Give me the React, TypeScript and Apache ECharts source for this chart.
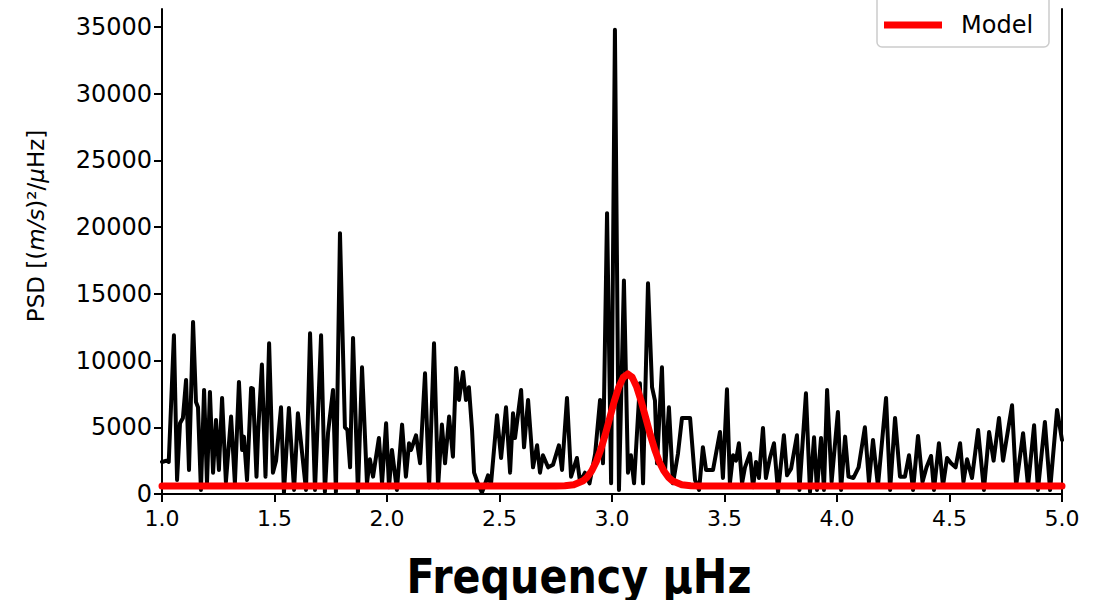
import React, { useEffect, useRef } from "react";
import * as echarts from "echarts";

const xTicks = [1.0, 1.5, 2.0, 2.5, 3.0, 3.5, 4.0, 4.5, 5.0];
const yTicks = [0, 5000, 10000, 15000, 20000, 25000, 30000, 35000];

const psdFreq = [
  1.0, 1.02, 1.03, 1.053, 1.067, 1.08, 1.093, 1.107, 1.12, 1.138, 1.151, 1.16, 1.173, 1.187, 1.2, 1.213, 1.227, 1.24,
  1.253, 1.267, 1.284, 1.307, 1.324, 1.342, 1.356, 1.364, 1.378, 1.396, 1.404, 1.42, 1.427, 1.444, 1.46, 1.476, 1.493,
  1.507, 1.529, 1.542, 1.564, 1.587, 1.604, 1.64, 1.658, 1.68, 1.707, 1.724, 1.738, 1.76, 1.773, 1.791, 1.813, 1.824,
  1.836, 1.849, 1.871, 1.889, 1.911, 1.924, 1.938, 1.964, 1.978, 1.996,
  2.009, 2.022, 2.044, 2.067, 2.084, 2.098, 2.107, 2.129, 2.147, 2.169, 2.187, 2.209, 2.227, 2.244, 2.258, 2.276, 2.293,
  2.307, 2.32, 2.338, 2.351, 2.364, 2.378, 2.387, 2.404, 2.422, 2.436, 2.449, 2.462, 2.489, 2.507, 2.529, 2.547, 2.56,
  2.569, 2.596, 2.609, 2.627, 2.649, 2.667, 2.68, 2.693, 2.716, 2.738, 2.764, 2.778, 2.8, 2.818, 2.844, 2.858, 2.88,
  2.9, 2.925, 2.947, 2.96, 2.978, 2.996, 3.013, 3.031, 3.053, 3.071, 3.084, 3.098, 3.124, 3.138, 3.16, 3.178, 3.191,
  3.2, 3.222, 3.236, 3.253, 3.271, 3.293, 3.311, 3.347, 3.369, 3.387, 3.404, 3.418, 3.449, 3.48, 3.493, 3.511, 3.524,
  3.538, 3.551, 3.564, 3.578, 3.591, 3.613, 3.627, 3.64, 3.653, 3.671, 3.684, 3.702, 3.72, 3.738, 3.764, 3.778, 3.796,
  3.822, 3.833, 3.862, 3.88, 3.898, 3.911, 3.929, 3.942, 3.956, 3.976, 4.004, 4.018, 4.036, 4.051, 4.073, 4.096, 4.124,
  4.142, 4.16, 4.182, 4.218, 4.236, 4.258, 4.28, 4.302, 4.32, 4.338, 4.36, 4.38, 4.398, 4.418, 4.431, 4.453, 4.471,
  4.489, 4.507, 4.527, 4.547, 4.562, 4.578, 4.6, 4.627, 4.653, 4.676, 4.696, 4.72, 4.738, 4.778, 4.796, 4.827, 4.849,
  4.876, 4.893, 4.924, 4.947, 4.978, 5.0,
];

const psdValue = [
  2400, 2500, 2400, 11900, 1050, 5300, 5700, 8550, 1800, 12900, 6900, 6500, 300, 7800, 800, 7650, 1600, 5550,
  1800, 7200, 900, 5800, 800, 8400, 3300, 4300, 1050, 7950, 7900, 1300, 4550, 9700, 1300, 11300, 1600,
  2500, 6500, 100, 6450, 300, 6050, 300, 12050, 300, 11900, 150, 4600, 7800, 100, 19550, 5000, 4800,
  2000, 11700, 100, 9500, 800, 2600, 1300, 4200, 800, 5300,
  500, 3300, 300, 5200, 1300, 3800, 3300, 4400, 2300, 9050, 500, 11300, 500, 5200, 2300, 5800, 2800,
  9450, 7050, 9150, 7050, 8000, 4800, 1600, 800, 100, 750, 1400, 700, 5900, 2700, 6500, 1600, 6050,
  4200, 7800, 3500, 7050, 2000, 3650, 1600, 2900, 2000, 2200, 3650, 1800, 7200, 1300, 2700, 900, 1600,
  800, 3000, 7050, 2300, 21050, 800, 34800, 300, 16000, 1600, 2900, 800, 8300, 800, 15800, 8000, 7000,
  2300, 9500, 1800, 6500, 800, 3000, 5700, 5700, 1050, 300, 3500, 1800, 1800, 4650, 1200, 7850, 800,
  2900, 2500, 3800, 800, 2000, 3050, 500, 2400, 1200, 4950, 1200, 2700, 3800, 150, 4400, 1400, 1900,
  4400, 300, 7550, 150, 4250, 300, 4200, 300, 7800, 900, 6150, 300, 4300, 1300, 1200, 2000, 5000,
  900, 4050, 600, 7200, 300, 5700, 1300, 1300, 2900, 300, 4350, 900, 2000, 2850, 300, 3800, 600,
  2700, 2300, 2000, 3800, 900, 2600, 1200, 4800, 300, 4650, 2500, 5700, 2500, 6650, 600, 4550, 600,
  5150, 300, 5400, 300, 6300, 4050,
];

const modelFreq = [
  1.0, 2.75, 2.79, 2.83, 2.87, 2.89, 2.91, 2.93, 2.95, 2.97, 2.99, 3.01, 3.03, 3.05, 3.07, 3.09, 3.11, 3.13, 3.15,
  3.17, 3.19, 3.21, 3.23, 3.25, 3.27, 3.31, 3.35, 3.39, 5.0,
];
const modelValue = [
  600, 600, 620, 690, 970, 1270, 1740, 2420, 3330, 4450, 5700, 6940, 8010, 8740, 9000, 8740, 8010, 6940, 5700,
  4450, 3330, 2420, 1740, 1270, 970, 690, 620, 600, 600,
];

const FONT = "'DejaVu Sans', sans-serif";

export default function App() {
  const ref = useRef<HTMLDivElement>(null);
  useEffect(() => {
    if (!ref.current) return;
    const chart = echarts.init(ref.current, null, { renderer: "svg" });
    const psdData = psdFreq.map((f, i) => [f, psdValue[i]]);
    const modelData = modelFreq.map((f, i) => [f, modelValue[i]]);
    chart.setOption({
      animation: false,
      backgroundColor: "#ffffff",
      grid: { left: 162, right: 39, top: 9, bottom: 106, containLabel: false },
      xAxis: {
        type: "value",
        min: xTicks[0],
        max: xTicks[xTicks.length - 1],
        interval: 0.5,
        axisLine: { show: true, onZero: false, lineStyle: { color: "#000", width: 2 } },
        axisTick: { show: true, inside: false, length: 8, lineStyle: { color: "#000", width: 2 } },
        axisLabel: {
          color: "#000",
          fontSize: 22,
          fontFamily: FONT,
          margin: 13,
          formatter: (v: number) => v.toFixed(1),
        },
        splitLine: { show: false },
      },
      yAxis: [
        {
          type: "value",
          min: yTicks[0],
          max: 36350,
          interval: 5000,
          axisLine: { show: true, onZero: false, lineStyle: { color: "#000", width: 2 } },
          axisTick: { show: true, inside: false, length: 8, lineStyle: { color: "#000", width: 2 } },
          axisLabel: {
            color: "#000",
            fontSize: 24,
            fontFamily: FONT,
            margin: 10,
            showMaxLabel: false,
            formatter: (v: number) => String(v),
          },
          splitLine: { show: false },
        },
        {
          type: "value",
          position: "right",
          min: 0,
          max: 36350,
          axisLine: { show: true, lineStyle: { color: "#000", width: 2 } },
          axisTick: { show: false },
          axisLabel: { show: false },
          splitLine: { show: false },
        },
      ],
      series: [
        {
          name: "Data",
          type: "line",
          data: psdData,
          symbol: "none",
          lineStyle: { color: "#000", width: 4, cap: "round", join: "round" },
          z: 2,
        },
        {
          name: "Model",
          type: "line",
          data: modelData,
          symbol: "none",
          lineStyle: { color: "#ff0000", width: 7, cap: "round", join: "round" },
          z: 3,
        },
      ],
      graphic: [
        {
          type: "text",
          x: 36,
          y: 226,
          rotation: Math.PI / 2,
          style: {
            text: "{n|PSD [(}{i|m/s}{n|)²/}{i|μ}{n|Hz]}",
            align: "center",
            verticalAlign: "middle",
            fill: "#000",
            rich: {
              n: { fontSize: 23, fontFamily: FONT, fill: "#000" },
              i: { fontSize: 23, fontFamily: FONT, fontStyle: "italic", fill: "#000" },
            },
          },
        },
        {
          type: "text",
          x: 579,
          y: 576,
          scaleX: 0.86,
          style: {
            text: "Frequency μHz",
            align: "center",
            verticalAlign: "middle",
            fontSize: 48,
            fontWeight: "bold",
            fontFamily: FONT,
            fill: "#000",
          },
        },
        {
          type: "group",
          children: [
            {
              type: "rect",
              shape: { x: 877, y: -30, width: 172, height: 77, r: 5 },
              style: { fill: "#fff", stroke: "#cccccc", lineWidth: 1.5 },
            },
            {
              type: "line",
              shape: { x1: 884, y1: 25, x2: 942, y2: 25 },
              style: { stroke: "#ff0000", lineWidth: 7 },
            },
            {
              type: "text",
              x: 961,
              y: 25,
              style: {
                text: "Model",
                align: "left",
                verticalAlign: "middle",
                fontSize: 24,
                fontFamily: FONT,
                fill: "#000",
              },
            },
          ],
        },
      ],
    });
    return () => chart.dispose();
  }, []);
  return <div ref={ref} style={{ width: 1101, height: 600, position: "absolute", left: 0, top: 0 }} />;
}
